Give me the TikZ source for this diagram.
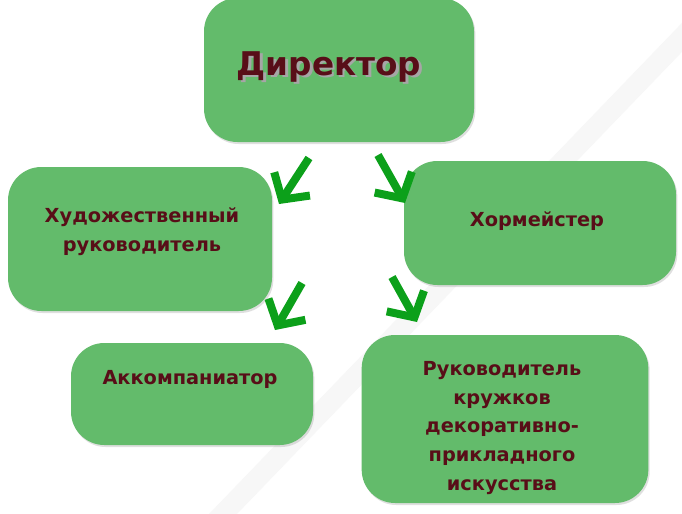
\documentclass[tikz,border=0pt]{standalone}
\usepackage{fontspec}
\setmainfont{DejaVu Sans}
\usetikzlibrary{arrows.meta,shadows,positioning}
\definecolor{boxgreen}{RGB}{99,187,107}
\definecolor{txtred}{RGB}{88,14,24}
\definecolor{arrgreen}{RGB}{12,160,26}
\newcommand{\shadowtxt}[1]{\makebox[0pt][l]{\hspace{2pt}\raisebox{-2pt}{\color{black!35}#1}}#1}

\begin{document}
\begin{tikzpicture}[x=0.75pt, y=-0.75pt,
    box/.style={draw=none, fill=boxgreen, rounded corners=25pt,
        drop shadow={shadow xshift=1pt, shadow yshift=-1.5pt, opacity=0.25}},
    lbl/.style={text=txtred, align=center, font=\bfseries\fontsize{14.5}{21.5}\selectfont},
    arr/.style={arrgreen, line width=6pt, -{Straight Barb[length=14pt, width=32pt]}}]
    \useasboundingbox (0, 0) rectangle (682, 514);
    \fill[white] (0, 0) rectangle (682, 514);
    % faint stripe in the background
    \fill[black!3] (704, 0) -- (732, 0) -- (237, 514) -- (209, 514) -- cycle;

    % boxes
    \node[box, minimum width=202.5pt, minimum height=108pt] (dir) at (339, 70) {};
    \node[box, minimum width=198pt, minimum height=108pt] (art) at (140, 239) {};
    \node[box, minimum width=204pt, minimum height=93pt] (chor) at (540, 223) {};
    \node[box, minimum width=181.5pt, minimum height=76.5pt] (acc) at (192, 394) {};
    \node[box, minimum width=215pt, minimum height=126pt] (dec) at (505, 419) {};

    % texts
    \node[lbl, font=\bfseries\fontsize{24.5}{28}\selectfont] (dirtxt) at (329, 68) {\shadowtxt{Директор}};
    \node[lbl] (arttxt) at (142, 232) {Художественный\\руководитель};
    \node[lbl] (chortxt) at (537, 221) {Хормейстер};
    \node[lbl] (acctxt) at (190, 379) {Аккомпаниатор};
    \node[lbl] (dectxt) at (502, 428) {Руководитель\\кружков\\декоративно-\\прикладного\\искусства};

    % arrows
    \coordinate (a1s) at (309, 158);
    \coordinate (a1e) at (279, 204);
    \coordinate (a2s) at (378, 155);
    \coordinate (a2e) at (405, 203);
    \coordinate (a3s) at (302, 283);
    \coordinate (a3e) at (275, 330);
    \coordinate (a4s) at (392, 277);
    \coordinate (a4e) at (417, 322);
    \draw[arr] (a1s) -- (a1e);
    \draw[arr] (a2s) -- (a2e);
    \draw[arr] (a3s) -- (a3e);
    \draw[arr] (a4s) -- (a4e);
\end{tikzpicture}
\end{document}
